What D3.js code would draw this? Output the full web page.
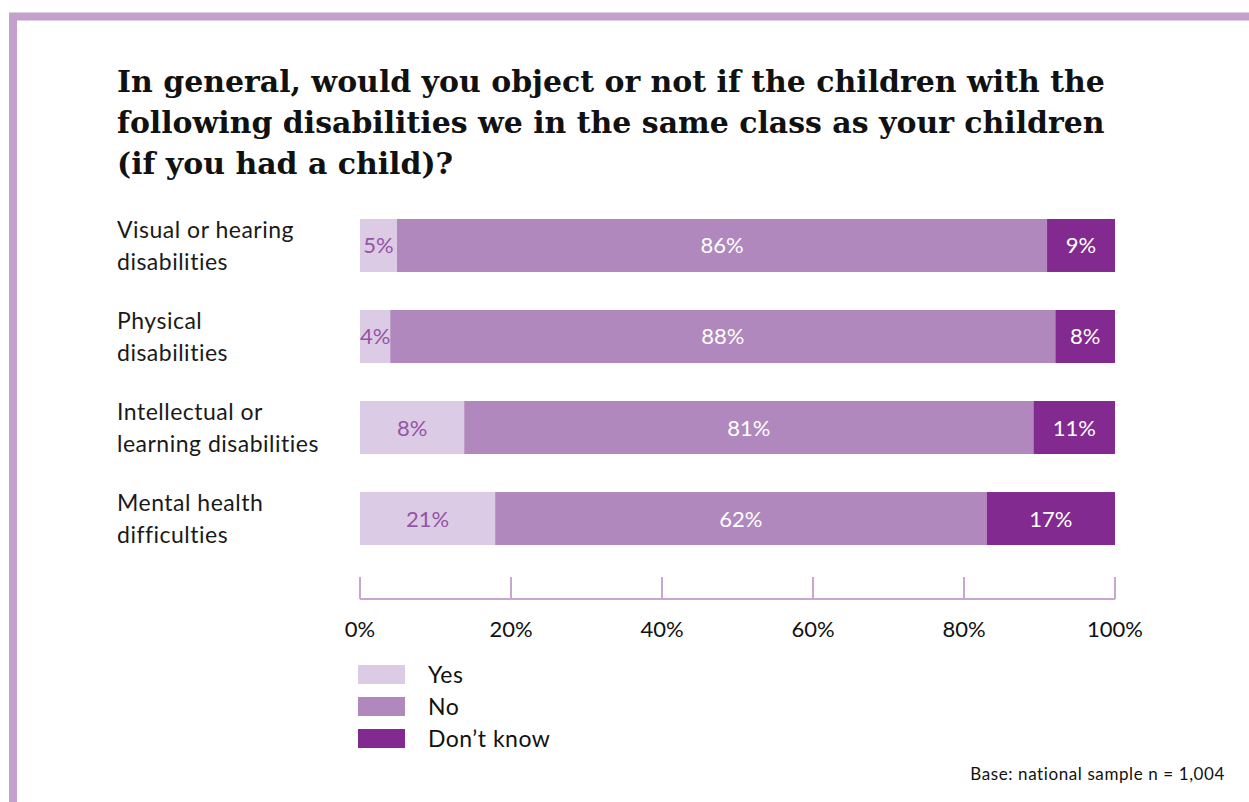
<!DOCTYPE html>
<html>
<head>
<meta charset="utf-8">
<title>Disabilities in class</title>
<script src="https://cdn.jsdelivr.net/npm/d3@7"></script>
<style>
  body { margin: 0; background: #fff; }
  .title { font-family: "DejaVu Serif", serif; font-weight: bold; fill: #111; }
  .cat { font-family: Lato, "Open Sans", sans-serif; font-size: 23px; letter-spacing: 0.5px; fill: #1a1a1a; }
  .val { font-family: Lato, "Open Sans", sans-serif; font-size: 22px; text-anchor: middle; }
  .tick-label { font-family: Lato, "Open Sans", sans-serif; font-size: 22px; fill: #111; text-anchor: middle; }
  .legend { font-family: Lato, "Open Sans", sans-serif; font-size: 23px; letter-spacing: 0.5px; fill: #111; }
  .note { font-family: Lato, "Open Sans", sans-serif; font-size: 17px; letter-spacing: 0.6px; fill: #111; text-anchor: end; }
</style>
</head>
<body>
<script>
// data
var categories = [
  ["Visual or hearing", "disabilities"],
  ["Physical", "disabilities"],
  ["Intellectual or", "learning disabilities"],
  ["Mental health", "difficulties"]
];
var seriesNames = ["Yes", "No", "Don\u2019t know"];
// drawn segment widths (%), as they appear in the picture
var yesValues = [4.9, 4.0, 13.8, 17.9];
var noValues = [86.1, 88.1, 75.4, 65.1];
var dkValues = [9.0, 7.9, 10.8, 17.0];
// printed labels
var yesLabels = ["5%", "4%", "8%", "21%"];
var noLabels = ["86%", "88%", "81%", "62%"];
var dkLabels = ["9%", "8%", "11%", "17%"];
var tickValues = [0, 20, 40, 60, 80, 100];
var titleLines = [
  "In general, would you object or not if the children with the",
  "following disabilities we in the same class as your children",
  "(if you had a child)?"
];

var width = 1249, height = 802;
var colors = ["#dccbe4", "#b088bd", "#822a8f"];
var labelColors = ["#9553a6", "#ffffff", "#ffffff"];

var svg = d3.select("body").append("svg")
    .attr("width", width)
    .attr("height", height);

// frame
svg.append("path")
    .attr("d", "M13," + height + "V16.5H" + width)
    .attr("fill", "none")
    .attr("stroke", "#c4a0cd")
    .attr("stroke-width", 8);

// title, sized so the longest line fits the width
var title = svg.append("g");
var tLines = title.selectAll("text")
    .data(titleLines)
    .enter().append("text")
    .attr("class", "title")
    .attr("x", 117)
    .attr("y", function (d, i) { return 92 + i * 41; })
    .style("font-size", "30px")
    .text(function (d) { return d; });
var w2 = tLines.nodes()[1].getComputedTextLength();
tLines.style("font-size", (30 * 988 / w2) + "px");

var x = d3.scaleLinear().domain([0, 100]).range([360, 1115]);
var y = d3.scaleBand().domain(d3.range(categories.length)).range([219, 545]).paddingInner(0.418).paddingOuter(0);

var rows = categories.map(function (c, i) {
  return { i: i, values: [yesValues[i], noValues[i], dkValues[i]], labels: [yesLabels[i], noLabels[i], dkLabels[i]] };
});

var row = svg.selectAll(".row")
    .data(rows)
    .enter().append("g")
    .attr("class", "row");

row.each(function (r) {
  var g = d3.select(this);
  var acc = 0;
  var segs = r.values.map(function (v, k) {
    var s = { k: k, x0: acc, x1: acc + v, label: r.labels[k] };
    acc += v;
    return s;
  });
  g.selectAll("rect")
      .data(segs)
      .enter().append("rect")
      .attr("x", function (d) { return x(d.x0); })
      .attr("y", y(r.i))
      .attr("width", function (d) { return x(d.x1) - x(d.x0); })
      .attr("height", y.bandwidth())
      .attr("fill", function (d) { return colors[d.k]; });
  g.selectAll("text.val")
      .data(segs)
      .enter().append("text")
      .attr("class", "val")
      .attr("x", function (d) { return (x(d.x0) + x(d.x1)) / 2; })
      .attr("y", y(r.i) + y.bandwidth() / 2 + 8)
      .attr("fill", function (d) { return labelColors[d.k]; })
      .text(function (d) { return d.label; });
});

// category labels
svg.selectAll(".cat")
    .data(categories)
    .enter().append("text")
    .attr("class", "cat")
    .attr("x", 117)
    .attr("y", function (d, i) { return y(i) + 19; })
    .each(function (d) {
      var t = d3.select(this);
      d.forEach(function (line, j) {
        t.append("tspan").attr("x", 117).attr("dy", j === 0 ? 0 : 32).text(line);
      });
    });

// axis
var axisY = 599;
var axis = svg.append("g").attr("class", "axis");
axis.append("line")
    .attr("x1", x(0)).attr("x2", x(100))
    .attr("y1", axisY).attr("y2", axisY)
    .attr("stroke", "#c9a6d1").attr("stroke-width", 2);
axis.selectAll(".tick")
    .data(tickValues)
    .enter().append("line")
    .attr("x1", function (d) { return x(d); })
    .attr("x2", function (d) { return x(d); })
    .attr("y1", 577).attr("y2", axisY)
    .attr("stroke", "#c9a6d1").attr("stroke-width", 2);
axis.selectAll(".tick-label")
    .data(tickValues)
    .enter().append("text")
    .attr("class", "tick-label")
    .attr("x", function (d) { return x(d); })
    .attr("y", 637)
    .text(function (d) { return d + "%"; });

// legend
var legend = svg.selectAll(".leg")
    .data(seriesNames)
    .enter().append("g")
    .attr("class", "leg")
    .attr("transform", function (d, i) { return "translate(358," + (665 + i * 32) + ")"; });
legend.append("rect")
    .attr("width", 47).attr("height", 19)
    .attr("fill", function (d, i) { return colors[i]; });
legend.append("text")
    .attr("class", "legend")
    .attr("x", 70).attr("y", 18)
    .text(function (d) { return d; });

svg.append("text")
    .attr("class", "note")
    .attr("x", 1225).attr("y", 780)
    .text("Base: national sample n = 1,004");
</script>
</body>
</html>
